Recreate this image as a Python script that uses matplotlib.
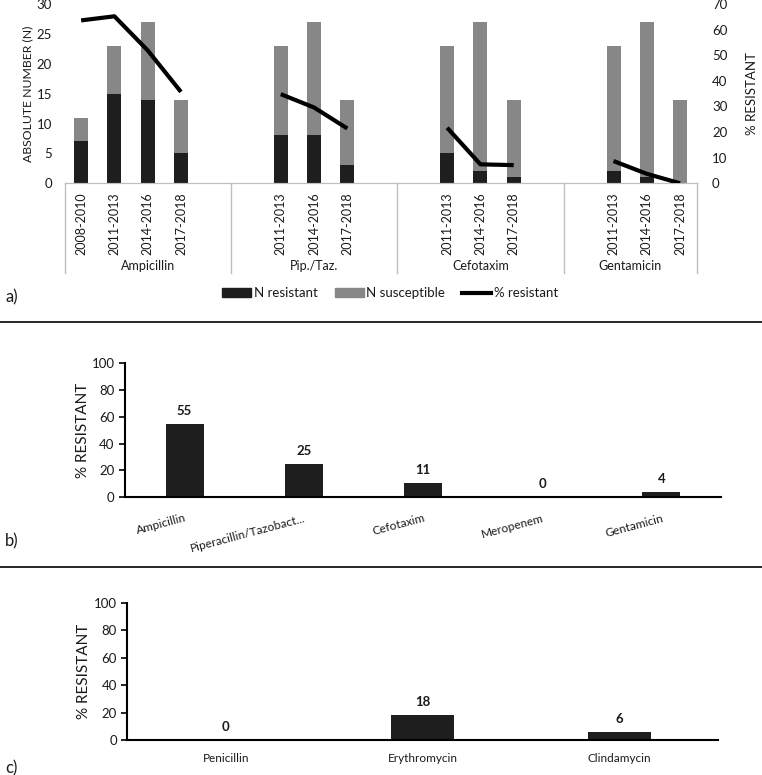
import matplotlib.pyplot as plt
import matplotlib.transforms as mtransforms
from matplotlib.lines import Line2D
from matplotlib.patches import Patch

plt.rcParams['font.family'] = ['Lato', 'DejaVu Sans']

# a) counts per antibiotic and period (blank slots kept as in the original sheet)
groups = ['Ampicillin', 'Pip./Taz.', 'Cefotaxim', 'Gentamicin']
periods = [
    ['2008-2010', '2011-2013', '2014-2016', '2017-2018', ''],
    ['', '2011-2013', '2014-2016', '2017-2018', ''],
    ['', '2011-2013', '2014-2016', '2017-2018', ''],
    ['', '2011-2013', '2014-2016', '2017-2018'],
]
n_resistant = [[7, 15, 14, 5], [8, 8, 3], [5, 2, 1], [2, 1, 0]]
n_susceptible = [[4, 8, 13, 9], [15, 19, 11], [18, 25, 13], [21, 26, 14]]
pct_resistant = [[63.6, 65.2, 51.9, 35.7], [34.8, 29.6, 21.4],
                 [21.7, 7.4, 7.1], [8.7, 3.7, 0.0]]

# b) gram negative, % resistant
b_drugs = ['Ampicillin', 'Piperacillin/Tazobact...', 'Cefotaxim', 'Meropenem', 'Gentamicin']
b_pct = [55, 25, 11, 0, 4]

# c) gram positive, % resistant
c_drugs = ['Penicillin', 'Erythromycin', 'Clindamycin']
c_pct = [0, 18, 6]

BLACK = '#1e1e1e'
GREY = '#878787'
AXGREY = '#bfbfbf'
TXT = '#1a1a1a'

W, H = 762, 775
fig = plt.figure(figsize=(W / 100, H / 100), dpi=100)


def box(l, t, r, b):
    return [l / W, 1 - b / H, (r - l) / W, (b - t) / H]


# ---------------- panel a ----------------
ax = fig.add_axes(box(64.5, 4, 696.7, 183.3))
ax2 = ax.twinx()
trans = mtransforms.blended_transform_factory(ax.transData, ax.transAxes)
ax_h = 179.3

slot = 0
bounds = [0]
for g, per in enumerate(periods):
    xs = [slot + i + 0.5 for i, p in enumerate(per) if p]
    labels = [p for p in per if p]
    ax.bar(xs, n_resistant[g], width=0.42, color=BLACK, zorder=2)
    ax.bar(xs, n_susceptible[g], width=0.42, bottom=n_resistant[g], color=GREY, zorder=2)
    ax2.plot(xs, pct_resistant[g], color='black', lw=3, solid_capstyle='butt', zorder=3)
    for x, lab in zip(xs, labels):
        ax.text(x, -8.7 / ax_h, lab, transform=trans, rotation=90, ha='center', va='top',
                fontsize=9, color=TXT)
    mid = slot + len(per) / 2
    ax.text(mid, -83 / ax_h, groups[g], transform=trans, ha='center', va='center',
            fontsize=9, color=TXT)
    slot += len(per)
    bounds.append(slot)

for b in bounds:
    ax.plot([b, b], [0, -90 / ax_h], transform=trans, color=AXGREY, lw=1, clip_on=False)

ax.set_xlim(0, slot)
ax.set_ylim(0, 30)
ax.set_yticks(range(0, 31, 5))
ax2.set_ylim(0, 70)
ax2.set_yticks(range(0, 71, 10))
ax.set_xticks([])
for a in (ax, ax2):
    for s in ('top', 'left', 'right'):
        a.spines[s].set_visible(False)
    a.spines['bottom'].set_color(AXGREY)
    a.tick_params(axis='y', length=0, labelsize=9.5, colors=TXT)
ax.tick_params(axis='y', pad=9)
ax2.tick_params(axis='y', pad=11)
ax.set_ylabel('ABSOLUTE NUMBER (N)', fontsize=8.8, color=TXT)
ax.yaxis.set_label_coords(-0.05, 0.5)
ax2.set_ylabel('% RESISTANT', fontsize=9.5, color=TXT)
ax2.yaxis.set_label_coords(1.078, 0.5)

handles = [Patch(color=BLACK, label='N resistant'),
           Patch(color=GREY, label='N susceptible'),
           Line2D([], [], color='black', lw=3, label='% resistant')]
fig.legend(handles=handles, loc='center', bbox_to_anchor=(390 / W, 1 - 293 / H), ncol=3,
           frameon=False, fontsize=9.5, handlelength=2.2, handleheight=0.6,
           handletextpad=0.2, columnspacing=1.3, labelcolor=TXT)


def pct_panel(rect, drugs, vals, rot, label_x, xsize):
    a = fig.add_axes(rect)
    xs = range(len(drugs))
    a.bar(xs, vals, width=0.32, color=BLACK)
    for x, v in zip(xs, vals):
        a.annotate(str(v), (x, v), xytext=(0, 5), textcoords='offset points',
                   ha='center', va='bottom', fontsize=9.5, fontweight='bold', color=TXT)
    a.set_xlim(-0.5, len(drugs) - 0.5)
    a.set_ylim(0, 100)
    a.set_yticks(range(0, 101, 20))
    a.set_xticks(list(xs))
    if rot:
        a.set_xticklabels(drugs, rotation=rot, ha='right', rotation_mode='anchor')
        shift = mtransforms.ScaledTranslation(5 / 100, 0, fig.dpi_scale_trans)
        for t in a.get_xticklabels():
            t.set_transform(t.get_transform() + shift)
        pad = 11
    else:
        a.set_xticklabels(drugs)
        pad = 9
    for s in ('top', 'right'):
        a.spines[s].set_visible(False)
    for s in ('left', 'bottom'):
        a.spines[s].set_linewidth(1.5)
        a.spines[s].set_color('black')
    a.tick_params(axis='y', length=4, width=1.2, labelsize=9.5, colors=TXT)
    a.tick_params(axis='y', color='black')
    a.tick_params(axis='x', length=0, labelsize=xsize, colors=TXT, pad=pad)
    a.set_ylabel('% RESISTANT', fontsize=11, color=TXT)
    a.yaxis.set_label_coords(label_x, 0.5)
    return a


# ---------------- panel b ----------------
pct_panel(box(125, 363.3, 721, 497.3), b_drugs, b_pct, 15, -0.058, 8.6)

# ---------------- panel c ----------------
pct_panel(box(127.3, 602.7, 718, 740), c_drugs, c_pct, 0, -0.062, 8.5)

# separators and panel letters
for y in (321.7, 566.7):
    fig.add_artist(Line2D([0, 1], [1 - y / H] * 2, color='black', lw=1.2))
for lab, y in (('a)', 297), ('b)', 541.7), ('c)', 768)):
    fig.text(5 / W, 1 - y / H, lab, fontsize=12, va='center', ha='left', color=TXT)

fig.savefig('out.png', dpi=100)
